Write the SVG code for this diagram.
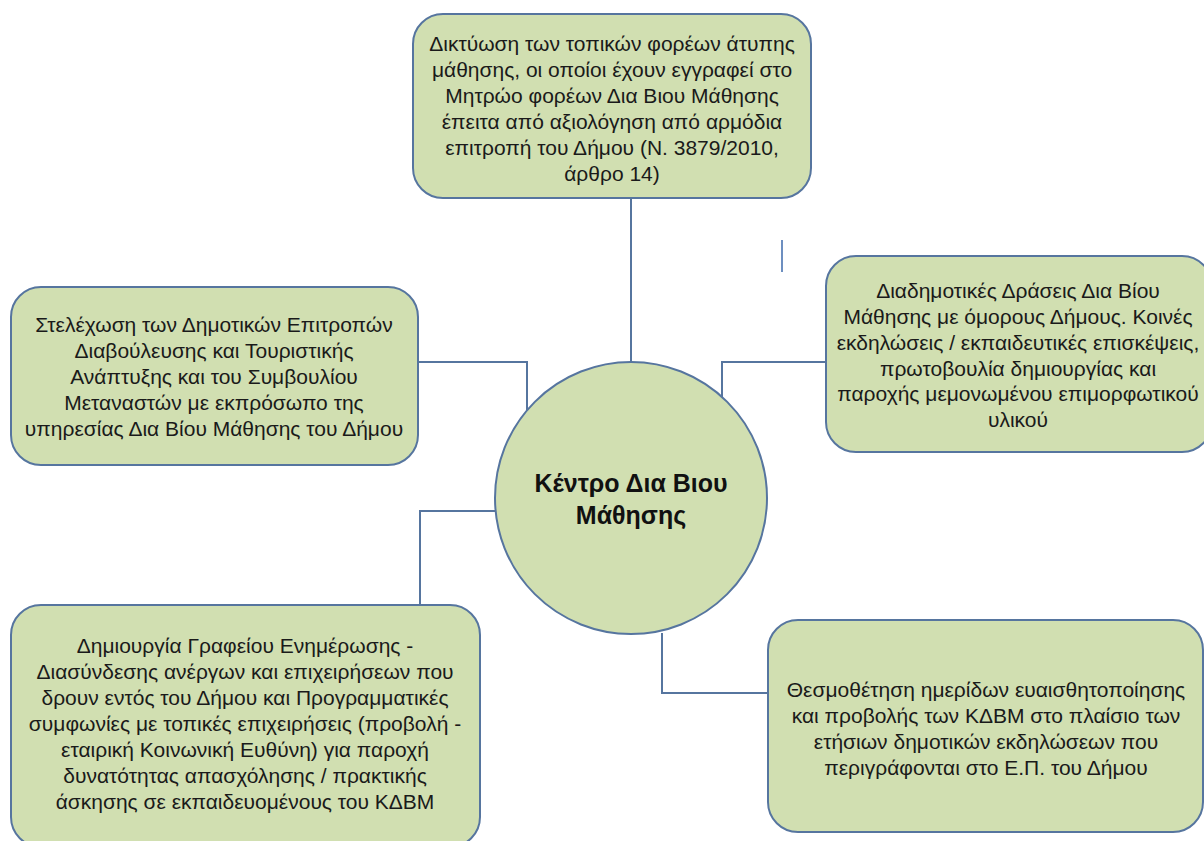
<svg xmlns="http://www.w3.org/2000/svg" width="1204" height="841" viewBox="0 0 1204 841">
<style>
.box{fill:#d1dfb1;stroke:#56759f;stroke-width:2}
.conn{fill:none;stroke:#56759f;stroke-width:2}
.t{font-family:"Liberation Sans",Arial,sans-serif;font-size:21px;fill:#1a1a1a;text-anchor:middle}
.c{font-family:"Liberation Sans",Arial,sans-serif;font-size:25px;font-weight:bold;fill:#111;text-anchor:middle}
</style>
<rect width="1204" height="841" fill="#ffffff"/>
<g id="connectors">
<polyline class="conn" points="631,198 631,362"/>
<polyline class="conn" points="418,362 527,362 527,410"/>
<polyline class="conn" points="826,362 722,362 722,397"/>
<polyline class="conn" points="420,605 420,511 496,511"/>
<polyline class="conn" points="662,633 662,693 768,693"/>
<line x1="782" y1="240" x2="782" y2="272" stroke="#6d8fc0" stroke-width="2"/>
</g>
<g id="top">
<rect class="box" x="413" y="14" width="398" height="184" rx="30"/>
<text class="t"><tspan x="612" y="51">Δικτύωση των τοπικών φορέων άτυπης</tspan><tspan x="612" y="77">μάθησης, οι οποίοι έχουν εγγραφεί στο</tspan><tspan x="612" y="103">Μητρώο φορέων Δια Βιου Μάθησης</tspan><tspan x="612" y="129">έπειτα από αξιολόγηση από αρμόδια</tspan><tspan x="612" y="155">επιτροπή του Δήμου (Ν. 3879/2010,</tspan><tspan x="612" y="181">άρθρο 14)</tspan></text>
</g>
<g id="left">
<rect class="box" x="11" y="287" width="407" height="178" rx="30"/>
<text class="t"><tspan x="214" y="332">Στελέχωση των Δημοτικών Επιτροπών</tspan><tspan x="214" y="358">Διαβούλευσης και Τουριστικής</tspan><tspan x="214" y="384">Ανάπτυξης και του Συμβουλίου</tspan><tspan x="214" y="410">Μεταναστών με εκπρόσωπο της</tspan><tspan x="214" y="436">υπηρεσίας Δια Βίου Μάθησης του Δήμου</tspan></text>
</g>
<g id="right">
<rect class="box" x="826" y="256" width="386" height="196" rx="30"/>
<text class="t"><tspan x="1018" y="298">Διαδημοτικές Δράσεις Δια Βίου</tspan><tspan x="1018" y="324">Μάθησης με όμορους Δήμους. Κοινές</tspan><tspan x="1018" y="350">εκδηλώσεις / εκπαιδευτικές επισκέψεις,</tspan><tspan x="1018" y="376">πρωτοβουλία δημιουργίας και</tspan><tspan x="1018" y="401">παροχής μεμονωμένου επιμορφωτικού</tspan><tspan x="1018" y="427">υλικού</tspan></text>
</g>
<g id="center">
<circle class="box" cx="631" cy="498" r="136"/>
<text class="c"><tspan x="631" y="492">Κέντρο Δια Βιου</tspan><tspan x="631" y="524">Μάθησης</tspan></text>
</g>
<g id="bottom-left">
<rect class="box" x="11" y="605" width="469" height="242" rx="30"/>
<text class="t"><tspan x="245" y="653">Δημιουργία Γραφείου Ενημέρωσης -</tspan><tspan x="245" y="679">Διασύνδεσης ανέργων και επιχειρήσεων που</tspan><tspan x="245" y="705">δρουν εντός του Δήμου και Προγραμματικές</tspan><tspan x="245" y="731">συμφωνίες με τοπικές επιχειρήσεις (προβολή -</tspan><tspan x="245" y="757">εταιρική Κοινωνική Ευθύνη) για παροχή</tspan><tspan x="245" y="783">δυνατότητας απασχόλησης / πρακτικής</tspan><tspan x="245" y="809">άσκησης σε εκπαιδευομένους του ΚΔΒΜ</tspan></text>
</g>
<g id="bottom-right">
<rect class="box" x="768" y="620" width="435" height="212" rx="30"/>
<text class="t"><tspan x="986" y="697">Θεσμοθέτηση ημερίδων ευαισθητοποίησης</tspan><tspan x="986" y="723">και προβολής των ΚΔΒΜ στο πλαίσιο των</tspan><tspan x="986" y="749">ετήσιων δημοτικών εκδηλώσεων που</tspan><tspan x="986" y="775">περιγράφονται στο Ε.Π. του Δήμου</tspan></text>
</g>
</svg>
